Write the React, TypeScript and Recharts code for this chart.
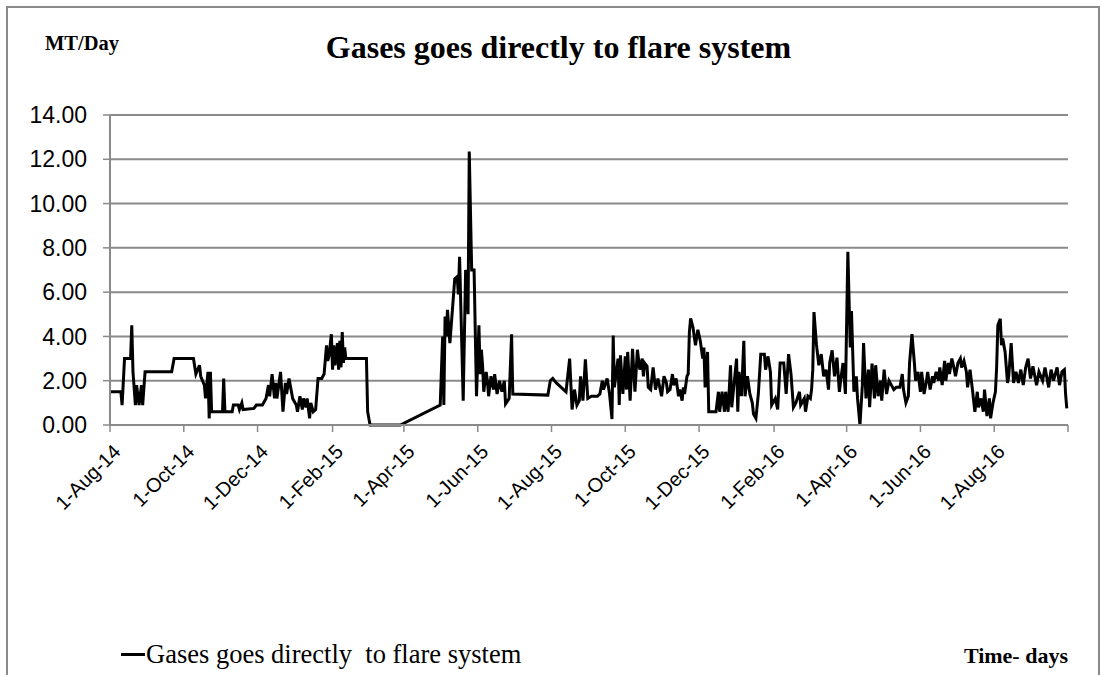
import { LineChart, Line, XAxis, YAxis, CartesianGrid, Legend } from 'recharts';

// days counted from 1-Aug-14
const dayIndex = [
  0, 9, 10, 12, 17, 18, 19, 21, 22, 24, 26, 27, 29, 51, 53, 69, 71, 74, 75, 78,
  79, 81, 82, 83, 84, 93, 94, 95, 101, 102, 106, 107, 109, 110, 119, 121, 126, 129, 131, 132,
  134, 136, 137, 138, 141, 143, 145, 146, 148, 150, 151, 154, 155, 157, 159, 160, 162, 163, 165, 166,
  168, 170, 172, 175, 177, 179, 180, 181, 183, 184, 185, 186, 188, 189, 190, 191, 192, 193, 194, 195,
  212, 213, 215, 240, 273, 275, 276, 277, 278, 279, 281, 285, 287, 288, 289, 292, 294, 295, 296, 297,
  299, 301, 303, 305, 306, 307, 308, 309, 311, 312, 313, 315, 317, 318, 320, 322, 324, 326, 327, 330,
  332, 333, 362, 364, 366, 369, 373, 377, 380, 382, 384, 386, 388, 389, 391, 393, 395, 398, 403, 405,
  407, 408, 411, 413, 415, 416, 417, 420, 421, 422, 424, 426, 427, 428, 430, 432, 434, 436, 438, 440,
  441, 442, 444, 445, 447, 449, 451, 453, 456, 458, 460, 461, 463, 465, 466, 468, 470, 471, 473, 474,
  475, 477, 478, 479, 480, 482, 484, 486, 488, 490, 491, 492, 494, 495, 501, 503, 504, 506, 508, 509,
  511, 513, 514, 518, 519, 520, 522, 524, 525, 527, 529, 531, 532, 534, 536, 538, 541, 542, 544, 546,
  547, 550, 552, 554, 557, 559, 561, 563, 565, 567, 570, 571, 574, 575, 577, 579, 580, 581, 582, 584,
  586, 588, 590, 592, 594, 595, 597, 599, 601, 603, 604, 606, 608, 610, 612, 613, 615, 617, 618, 620,
  622, 623, 625, 627, 628, 630, 632, 633, 635, 637, 638, 640, 642, 644, 646, 648, 650, 653, 655, 656,
  658, 660, 661, 663, 665, 666, 668, 670, 671, 673, 675, 676, 678, 680, 681, 683, 685, 686, 688, 690,
  691, 693, 694, 696, 698, 699, 701, 703, 704, 706, 708, 709, 711, 713, 715, 717, 718, 720, 722, 723,
  725, 727, 728, 730, 732, 733, 734, 736, 737, 738, 740, 742, 743, 745, 747, 749, 751, 753, 755, 757,
  759, 761, 763, 766, 768, 771, 773, 776, 778, 780, 783, 785, 787, 789, 790, 791,
];

const mtPerDay = [
  1.5, 1.5, 0.9, 3.0, 3.0, 4.5, 2.4, 0.9, 1.8, 0.9, 1.8, 0.9, 2.4, 2.4, 3.0, 3.0, 2.3, 2.7, 2.2, 1.8,
  1.2, 2.4, 0.3, 2.4, 0.6, 0.6, 2.1, 0.6, 0.6, 0.9, 0.9, 0.7, 1.0, 0.7, 0.75, 0.9, 0.9, 1.2, 1.8, 1.3,
  2.3, 1.2, 1.9, 1.2, 2.4, 0.6, 1.9, 1.4, 2.1, 1.5, 1.2, 0.9, 0.6, 1.3, 0.7, 1.2, 0.8, 1.2, 0.3, 1.0,
  0.6, 0.7, 2.1, 2.1, 2.3, 3.6, 2.9, 3.1, 4.1, 2.5, 3.6, 2.7, 3.7, 2.5, 3.8, 2.6, 4.2, 2.8, 3.5, 3.0,
  3.0, 0.6, 0.0, 0.0, 0.9, 4.0, 0.9, 4.9, 4.0, 5.2, 3.7, 6.6, 6.7, 5.9, 7.6, 1.1, 7.0, 6.8, 5.0, 12.35,
  7.0, 7.0, 1.3, 4.5, 2.3, 3.4, 2.7, 1.5, 2.4, 2.0, 1.3, 2.2, 1.6, 2.3, 1.4, 2.0, 1.5, 2.0, 0.95, 1.2,
  4.1, 1.4, 1.35, 2.0, 2.1, 1.9, 1.7, 1.5, 3.0, 0.7, 1.6, 0.9, 1.1, 2.2, 1.1, 2.97, 1.2, 1.3, 1.3, 1.4,
  2.0, 1.6, 2.1, 1.4, 0.27, 4.04, 1.7, 3.0, 0.9, 3.15, 1.4, 3.1, 1.6, 3.3, 1.1, 3.44, 1.5, 3.4, 2.5, 3.0,
  2.2, 2.8, 2.65, 1.7, 1.6, 2.6, 1.6, 2.1, 1.3, 2.2, 1.9, 1.5, 1.6, 2.3, 1.8, 2.1, 1.3, 1.6, 1.1, 1.7,
  1.4, 2.2, 2.3, 4.2, 4.82, 4.4, 3.6, 4.3, 3.8, 3.0, 3.5, 1.7, 3.3, 0.6, 0.6, 1.5, 0.6, 1.5, 0.6, 1.5,
  0.6, 2.7, 0.8, 3.0, 0.6, 2.4, 1.3, 3.8, 1.3, 2.2, 1.4, 1.0, 0.5, 0.3, 1.4, 3.2, 3.2, 2.5, 3.1, 2.4,
  0.9, 1.2, 0.7, 2.8, 2.8, 1.4, 3.2, 2.3, 0.8, 1.0, 1.5, 0.9, 1.2, 0.6, 1.3, 1.2, 1.6, 2.5, 5.1, 3.65,
  2.7, 3.2, 2.2, 2.5, 1.6, 2.8, 3.37, 2.2, 3.04, 1.5, 2.0, 2.8, 1.4, 7.82, 3.5, 5.15, 1.5, 2.2, 1.2, 0.0,
  1.8, 3.7, 1.2, 2.5, 0.8, 2.77, 1.2, 2.7, 1.3, 2.0, 1.1, 2.5, 1.4, 2.0, 1.8, 1.6, 1.7, 1.7, 2.3, 1.6,
  1.0, 1.3, 2.8, 4.1, 2.8, 2.0, 2.4, 1.5, 2.4, 1.4, 2.0, 2.4, 1.6, 2.2, 1.9, 2.4, 2.0, 2.6, 1.8, 2.9,
  2.0, 2.8, 2.3, 3.0, 2.5, 2.2, 2.8, 3.0, 2.6, 2.9, 2.4, 1.7, 2.5, 1.6, 0.6, 1.5, 0.8, 1.2, 0.6, 1.6,
  0.4, 1.2, 0.3, 1.0, 1.5, 2.6, 4.5, 4.8, 3.6, 3.9, 3.3, 1.9, 2.2, 3.7, 1.9, 2.4, 1.9, 2.5, 1.8, 2.6,
  3.0, 2.1, 2.65, 1.8, 2.4, 2.0, 2.6, 1.7, 2.5, 2.0, 2.6, 1.8, 2.4, 2.5, 1.4, 0.75,
];

const tickDays = [0, 61, 122, 184, 243, 304, 365, 426, 487, 549, 609, 670, 731, 792];
const tickLabels = [
  '1-Aug-14', '1-Oct-14', '1-Dec-14', '1-Feb-15', '1-Apr-15', '1-Jun-15', '1-Aug-15',
  '1-Oct-15', '1-Dec-15', '1-Feb-16', '1-Apr-16', '1-Jun-16', '1-Aug-16', '',
];
const yTicks = [0, 2, 4, 6, 8, 10, 12, 14];

const seriesName = 'Gases goes directly  to flare system';
const GRID = '#8a8a8a';
const SANS = '"Liberation Sans", Arial, sans-serif';
const SERIF = '"Liberation Serif", "Times New Roman", serif';

const chartData = dayIndex.map((d, i) => ({ day: d, value: mtPerDay[i] }));

function DateTick({ x, y, payload }: any) {
  const label = tickLabels[tickDays.indexOf(payload.value)] ?? '';
  const tx = x + 2;
  const ty = y + 9;
  return (
    <text
      x={tx}
      y={ty}
      dy="0.7em"
      textAnchor="end"
      transform={`rotate(-45 ${tx} ${ty})`}
      fontFamily={SANS}
      fontSize={20}
      fill="#000"
    >
      {label}
    </text>
  );
}

function FlareLegend() {
  return (
    <div style={{ display: 'flex', alignItems: 'center', fontFamily: SERIF, fontSize: 26.5, color: '#000', whiteSpace: 'nowrap' }}>
      <span style={{ display: 'inline-block', width: 24, height: 3, background: '#000', marginRight: 1 }} />
      <span style={{ whiteSpace: 'pre' }}>{seriesName}</span>
    </div>
  );
}

export default function App() {
  return (
    <div style={{ position: 'absolute', left: 0, top: 0, width: 1105, height: 675, background: '#fff', overflow: 'hidden' }}>
      <div
        style={{
          position: 'absolute', left: 6, top: 6, width: 1090, height: 720,
          border: `2px solid ${GRID}`,
        }}
      />
      <div
        style={{
          position: 'absolute', left: 0, width: 1105, top: 29, textAlign: 'center',
          fontFamily: SERIF, fontWeight: 'bold', fontSize: 32, paddingLeft: 6,
        }}
      >
        Gases goes directly to flare system
      </div>
      <div style={{ position: 'absolute', left: 45, top: 32, fontFamily: SERIF, fontWeight: 'bold', fontSize: 20.5 }}>
        MT/Day
      </div>
      <div
        style={{
          position: 'absolute', right: 1105 - 1068, top: 643, fontFamily: SERIF, fontWeight: 'bold', fontSize: 22,
        }}
      >
        Time- days
      </div>
      <LineChart
        width={1105}
        height={675}
        data={chartData}
        margin={{ top: 115, right: 37, bottom: 150, left: 50 }}
      >
        <CartesianGrid vertical={false} stroke={GRID} strokeWidth={2} />
        <XAxis
          dataKey="day"
          type="number"
          domain={[0, 792]}
          ticks={tickDays}
          interval={0}
          height={100}
          tick={<DateTick />}
          tickSize={7}
          axisLine={{ stroke: GRID, strokeWidth: 2 }}
          tickLine={{ stroke: GRID, strokeWidth: 1.5 }}
        />
        <YAxis
          type="number"
          domain={[0, 14]}
          ticks={yTicks}
          interval={0}
          width={60}
          tickFormatter={(v: number) => v.toFixed(2)}
          tick={{ fill: '#000', fontSize: 23, fontFamily: SANS }}
          tickSize={7}
          tickMargin={16}
          axisLine={{ stroke: GRID, strokeWidth: 2 }}
          tickLine={{ stroke: GRID, strokeWidth: 1.5 }}
        />
        <Legend
          layout="horizontal"
          verticalAlign="middle"
          align="center"
          wrapperStyle={{ top: 639, left: 121, width: 'auto' }}
          content={<FlareLegend />}
        />
        <Line
          type="linear"
          dataKey="value"
          name={seriesName}
          stroke="#000"
          strokeWidth={3}
          dot={false}
          isAnimationActive={false}
        />
      </LineChart>
    </div>
  );
}
